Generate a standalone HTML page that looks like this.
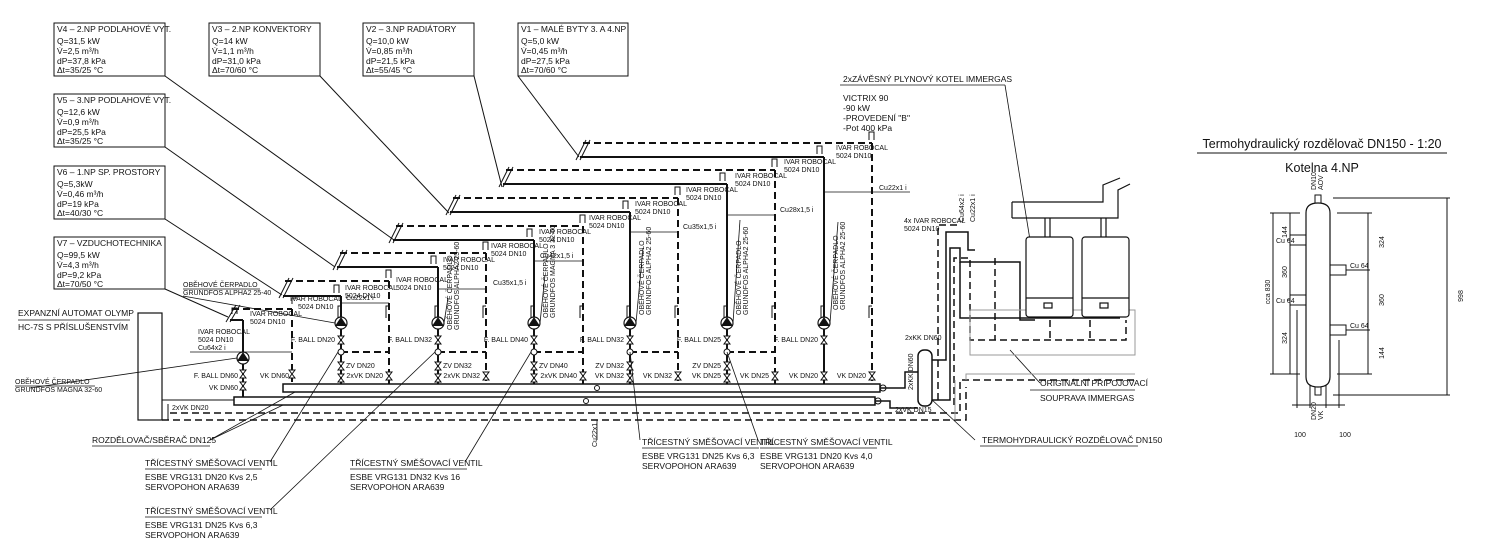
<!DOCTYPE html>
<html><head><meta charset="utf-8"><style>
html,body{margin:0;padding:0;background:#fff}
svg{display:block}
text{font-family:"Liberation Sans",sans-serif;fill:#111}
.t{font-size:8.5px}
.s{font-size:7px}
.d{stroke-dasharray:7,4}
</style></head><body>
<svg width="1500" height="549" viewBox="0 0 1500 549" xmlns="http://www.w3.org/2000/svg">
<g fill="none" stroke="#111" stroke-width="1">
<!-- info boxes -->
<rect x="54" y="23" width="111" height="53"/>
<rect x="209" y="23" width="111" height="53"/>
<rect x="363" y="23" width="111" height="53"/>
<rect x="518" y="23" width="110" height="53"/>
<rect x="54" y="94" width="111" height="53"/>
<rect x="54" y="166" width="111" height="53"/>
<rect x="54" y="237" width="111" height="52"/>
<!-- leaders -->
<line x1="165" y1="76" x2="394" y2="240"/>
<line x1="320" y1="76" x2="449" y2="213"/>
<line x1="474" y1="76" x2="502" y2="187"/>
<line x1="518" y1="76" x2="579" y2="157"/>
<line x1="165" y1="147" x2="335" y2="267"/>
<line x1="165" y1="219" x2="282" y2="295"/>
<line x1="165" y1="289" x2="228" y2="317"/>
</g>
<g class="t">
<text x="57" y="32">V4 – 2.NP PODLAHOVÉ VYT.</text><text x="57" y="44">Q=31,5 kW</text><text x="57" y="54">V̇=2,5 m³/h</text><text x="57" y="64">dP=37,8 kPa</text><text x="57" y="73">Δt=35/25 °C</text>
<text x="212" y="32">V3 – 2.NP KONVEKTORY</text><text x="212" y="44">Q=14 kW</text><text x="212" y="54">V̇=1,1 m³/h</text><text x="212" y="64">dP=31,0 kPa</text><text x="212" y="73">Δt=70/60 °C</text>
<text x="366" y="32">V2 – 3.NP RADIÁTORY</text><text x="366" y="44">Q=10,0 kW</text><text x="366" y="54">V̇=0,85 m³/h</text><text x="366" y="64">dP=21,5 kPa</text><text x="366" y="73">Δt=55/45 °C</text>
<text x="521" y="32">V1 – MALÉ BYTY 3. A 4.NP</text><text x="521" y="44">Q=5,0 kW</text><text x="521" y="54">V̇=0,45 m³/h</text><text x="521" y="64">dP=27,5 kPa</text><text x="521" y="73">Δt=70/60 °C</text>
<text x="57" y="103">V5 – 3.NP PODLAHOVÉ VYT.</text><text x="57" y="115">Q=12,6 kW</text><text x="57" y="125">V̇=0,9 m³/h</text><text x="57" y="135">dP=25,5 kPa</text><text x="57" y="144">Δt=35/25 °C</text>
<text x="57" y="175">V6 – 1.NP SP. PROSTORY</text><text x="57" y="187">Q=5,3kW</text><text x="57" y="197">V̇=0,46 m³/h</text><text x="57" y="207">dP=19 kPa</text><text x="57" y="216">Δt=40/30 °C</text>
<text x="57" y="246">V7 – VZDUCHOTECHNIKA</text><text x="57" y="258">Q=99,5 kW</text><text x="57" y="268">V̇=4,3 m³/h</text><text x="57" y="278">dP=9,2 kPa</text><text x="57" y="287">Δt=70/50 °C</text>
</g>

<!-- circuits -->
<g fill="none" stroke="#111">
<!-- c0 -->
<line x1="232" y1="309" x2="292" y2="309" stroke-width="2" class="d"/>
<line x1="292" y1="309" x2="292" y2="384" stroke-width="2" class="d"/>
<line x1="230" y1="320" x2="243" y2="320" stroke-width="2"/>
<line x1="243" y1="320" x2="243" y2="397" stroke-width="2"/>
<!-- c1 -->
<line x1="285" y1="281" x2="389" y2="281" stroke-width="2" class="d"/>
<line x1="389" y1="281" x2="389" y2="384" stroke-width="2" class="d"/>
<line x1="283" y1="296" x2="341" y2="296" stroke-width="2"/>
<line x1="341" y1="296" x2="341" y2="384" stroke-width="2"/>
<!-- c2 -->
<line x1="340" y1="253" x2="486" y2="253" stroke-width="2" class="d"/>
<line x1="486" y1="253" x2="486" y2="384" stroke-width="2" class="d"/>
<line x1="337" y1="267" x2="438" y2="267" stroke-width="2"/>
<line x1="438" y1="267" x2="438" y2="384" stroke-width="2"/>
<!-- c3 -->
<line x1="396" y1="226" x2="583" y2="226" stroke-width="2" class="d"/>
<line x1="583" y1="226" x2="583" y2="384" stroke-width="2" class="d"/>
<line x1="393" y1="240" x2="534" y2="240" stroke-width="2"/>
<line x1="534" y1="240" x2="534" y2="384" stroke-width="2"/>
<!-- c4 -->
<line x1="453" y1="198" x2="678" y2="198" stroke-width="2" class="d"/>
<line x1="678" y1="198" x2="678" y2="384" stroke-width="2" class="d"/>
<line x1="450" y1="212" x2="630" y2="212" stroke-width="2"/>
<line x1="630" y1="212" x2="630" y2="384" stroke-width="2"/>
<!-- c5 -->
<line x1="506" y1="170" x2="775" y2="170" stroke-width="2" class="d"/>
<line x1="775" y1="170" x2="775" y2="384" stroke-width="2" class="d"/>
<line x1="503" y1="184" x2="727" y2="184" stroke-width="2"/>
<line x1="727" y1="184" x2="727" y2="384" stroke-width="2"/>
<!-- c6 -->
<line x1="583" y1="143" x2="872" y2="143" stroke-width="2" class="d"/>
<line x1="872" y1="143" x2="872" y2="384" stroke-width="2" class="d"/>
<line x1="580" y1="157" x2="824" y2="157" stroke-width="2"/>
<line x1="824" y1="157" x2="824" y2="384" stroke-width="2"/>
<!-- break marks -->
<g stroke-width="1">
<path d="M226 322 L236 305 M230 322 L240 305"/>
<path d="M279 298 L289 278 M283 298 L293 278"/>
<path d="M333 270 L343 250 M337 270 L347 250"/>
<path d="M389 243 L399 223 M393 243 L403 223"/>
<path d="M446 215 L456 195 M450 215 L460 195"/>
<path d="M499 187 L509 167 M503 187 L513 167"/>
<path d="M576 160 L586 140 M580 160 L590 140"/>
</g>
<!-- bypass dashed -->
<g stroke-width="2" class="d">
<line x1="341" y1="352" x2="389" y2="352"/>
<line x1="438" y1="352" x2="486" y2="352"/>
<line x1="534" y1="352" x2="583" y2="352"/>
<line x1="630" y1="352" x2="678" y2="352"/>
<line x1="727" y1="352" x2="775" y2="352"/>
</g>
<!-- thin Cu lines -->
<g stroke-width="0.8">
<line x1="190" y1="352" x2="292" y2="352"/>
<line x1="341" y1="303" x2="389" y2="303"/>
<line x1="438" y1="289" x2="486" y2="289"/>
<line x1="534" y1="261" x2="583" y2="261"/>
<line x1="630" y1="232" x2="678" y2="232"/>
<line x1="727" y1="215" x2="775" y2="215"/>
<line x1="824" y1="192" x2="910" y2="192"/>
</g>
<!-- manifold bars -->
<rect x="283" y="384" width="597" height="8" stroke-width="1.5" fill="#fff"/>
<rect x="234" y="397" width="641" height="8" stroke-width="1.5" fill="#fff"/>
<circle cx="597" cy="388" r="2.5"/><circle cx="586" cy="401" r="2.5"/>
<circle cx="883" cy="388" r="3"/><circle cx="878" cy="401" r="3"/>
<!-- return dashed lines -->
<path d="M170 413 H960 V380 H1135" stroke-width="1.5" class="d"/>
<path d="M162 420 H966 V387" stroke-width="1.5" class="d"/>
<path d="M150 318 V420 M168 404 V420" stroke-width="1"/>
<!-- expansion vessel -->
<rect x="138" y="313" width="24" height="107" stroke-width="1.2" fill="#fff"/>
<line x1="162" y1="400" x2="234" y2="400" stroke-width="1"/>
<!-- pumps -->
<g stroke-width="1.2" fill="#fff">
<circle cx="243" cy="358" r="6"/><circle cx="341" cy="323" r="6"/><circle cx="438" cy="323" r="6"/>
<circle cx="534" cy="323" r="6"/><circle cx="630" cy="323" r="6"/><circle cx="727" cy="323" r="6"/><circle cx="824" cy="323" r="6"/>
</g>
<g fill="#111" stroke="none">
<path d="M243 352 L237 361 L249 361Z"/><path d="M341 317 L335 326 L347 326Z"/><path d="M438 317 L432 326 L444 326Z"/>
<path d="M534 317 L528 326 L540 326Z"/><path d="M630 317 L624 326 L636 326Z"/><path d="M727 317 L721 326 L733 326Z"/><path d="M824 317 L818 326 L830 326Z"/>
</g>
<!-- valves -->
<g stroke-width="1" fill="#fff">
<path d="M240 370 h6 l-6 8 h6z"/><path d="M240 382 h6 l-6 8 h6z"/><path d="M289 370 h6 l-6 8 h6z"/>
<path d="M338 336 h6 l-6 8 h6z"/><path d="M338 362 h6 l-6 8 h6z"/><path d="M338 374 h6 l-6 8 h6z"/><path d="M386 372 h6 l-6 8 h6z"/>
<path d="M435 336 h6 l-6 8 h6z"/><path d="M435 362 h6 l-6 8 h6z"/><path d="M435 374 h6 l-6 8 h6z"/><path d="M483 372 h6 l-6 8 h6z"/>
<path d="M531 336 h6 l-6 8 h6z"/><path d="M531 362 h6 l-6 8 h6z"/><path d="M531 374 h6 l-6 8 h6z"/><path d="M580 372 h6 l-6 8 h6z"/>
<path d="M627 336 h6 l-6 8 h6z"/><path d="M627 362 h6 l-6 8 h6z"/><path d="M627 374 h6 l-6 8 h6z"/><path d="M675 372 h6 l-6 8 h6z"/>
<path d="M724 336 h6 l-6 8 h6z"/><path d="M724 362 h6 l-6 8 h6z"/><path d="M724 374 h6 l-6 8 h6z"/><path d="M772 372 h6 l-6 8 h6z"/>
<path d="M821 336 h6 l-6 8 h6z"/><path d="M821 372 h6 l-6 8 h6z"/><path d="M869 372 h6 l-6 8 h6z"/>
<circle cx="341" cy="352" r="3"/><circle cx="438" cy="352" r="3"/><circle cx="534" cy="352" r="3"/><circle cx="630" cy="352" r="3"/><circle cx="727" cy="352" r="3"/>
</g>
<!-- air vents -->
<g stroke-width="1">
<path d="M232 314 v-6 h5 v6 M292 304 v-6 h5"/>
<path d="M334 293 v-8 h5 v8 M386 278 v-8 h5 v8"/>
<path d="M431 264 v-8 h5 v8 M483 250 v-8 h5 v8"/>
<path d="M527 237 v-8 h5 v8 M580 223 v-8 h5 v8"/>
<path d="M623 209 v-8 h5 v8 M675 195 v-8 h5 v8"/>
<path d="M720 181 v-8 h5 v8 M772 167 v-8 h5 v8"/>
<path d="M817 154 v-8 h5 v8 M869 140 v-8 h5 v8"/>
<path d="M338 318 v-12 h3 M435 318 v-12 h3 M531 318 v-12 h3 M627 318 v-12 h3 M724 318 v-12 h3 M821 318 v-12 h3"/>
<path d="M386 318 v-12 h3 M483 318 v-12 h3 M580 318 v-12 h3 M675 318 v-12 h3 M772 318 v-12 h3 M869 318 v-12 h3"/>
</g>
<!-- pump/valve leaders -->
<g stroke-width="0.8">
<line x1="30" y1="388" x2="237" y2="358"/>
<line x1="183" y1="296" x2="335" y2="323"/>
<line x1="210" y1="440" x2="283" y2="405"/><line x1="210" y1="440" x2="295" y2="392"/>
<line x1="270" y1="462" x2="338" y2="352"/><line x1="270" y1="510" x2="435" y2="352"/>
<line x1="465" y1="462" x2="531" y2="352"/>
<line x1="640" y1="440" x2="630" y2="352"/><line x1="758" y1="440" x2="727" y2="352"/>
<line x1="975" y1="440" x2="930" y2="398"/>
<line x1="1040" y1="383" x2="1010" y2="350"/>
<line x1="1005" y1="85" x2="1030" y2="240"/>
<line x1="448" y1="298" x2="444" y2="323"/><line x1="545" y1="275" x2="540" y2="323"/>
<line x1="643" y1="248" x2="636" y2="323"/><line x1="740" y1="220" x2="733" y2="323"/><line x1="838" y1="222" x2="830" y2="323"/>
<line x1="597" y1="420" x2="597" y2="440"/>
</g>
<!-- right piping -->
<g stroke-width="1.5">
<path d="M880 388 H905 V372 H918"/><path d="M875 401 H890 V408 H918"/>
<rect x="918" y="350" width="14" height="56" rx="6" fill="#fff"/>
<path d="M932 360 H946 V232 H968 V250 H975"/>
<path d="M932 372 V372" />
<path d="M932 400 H950 V248 H960 V262 H1020 V320 H1035"/>
<path d="M960 262 V318 H1120"/>
</g>
<path d="M938 400 V225 H958 M954 405 V258 H970 V340 H1126 V320 M995 258 V340 M1050 320 V340 M1090 320 V340" stroke-width="1.5" class="d"/>
<rect x="970" y="310" width="165" height="45" stroke="#999" stroke-width="1"/>
<path d="M955 420 V380 M966 380 V374 H1135" stroke="#999" stroke-width="1"/>
<!-- boilers -->
<g stroke-width="1.2">
<path d="M1012 202 H1103 V185 L1120 178 M1012 218 H1118 V190 L1130 184 M1012 202 V218"/>
<line x1="1045" y1="218" x2="1045" y2="237"/><line x1="1050" y1="218" x2="1050" y2="237"/>
<line x1="1101" y1="218" x2="1101" y2="237"/><line x1="1106" y1="218" x2="1106" y2="237"/>
<rect x="1026" y="237" width="47" height="80" rx="3" fill="#fff"/>
<rect x="1082" y="237" width="47" height="80" rx="3" fill="#fff"/>
<line x1="1026" y1="298" x2="1073" y2="298"/><line x1="1082" y1="298" x2="1129" y2="298"/>
<rect x="1044" y="303" width="8" height="5"/><rect x="1100" y="303" width="8" height="5"/>
</g>
<!-- right detail drawing -->
<g stroke-width="1">
<line x1="1197" y1="153" x2="1447" y2="153"/>
<path d="M1306 213 Q1306 203 1318 203 Q1330 203 1330 213 V377 Q1330 387 1318 387 Q1306 387 1306 377Z" stroke-width="1.2"/>
<rect x="1315" y="195" width="6" height="8"/><rect x="1315" y="387" width="6" height="8"/>
<rect x="1290" y="235" width="16" height="10"/><rect x="1290" y="295" width="16" height="10"/>
<rect x="1330" y="265" width="16" height="10"/><rect x="1330" y="325" width="16" height="10"/>
<line x1="1273" y1="213" x2="1273" y2="374"/><line x1="1290" y1="213" x2="1290" y2="374"/>
<line x1="1368" y1="213" x2="1368" y2="374"/><line x1="1447" y1="198" x2="1447" y2="395"/>
<line x1="1270" y1="213" x2="1300" y2="213"/><line x1="1337" y1="213" x2="1372" y2="213"/>
<line x1="1270" y1="374" x2="1300" y2="374"/><line x1="1337" y1="374" x2="1372" y2="374"/>
<line x1="1287" y1="240" x2="1290" y2="240"/><line x1="1287" y1="300" x2="1290" y2="300"/>
<line x1="1346" y1="270" x2="1370" y2="270"/><line x1="1346" y1="330" x2="1370" y2="330"/>
<line x1="1333" y1="198" x2="1450" y2="198"/><line x1="1333" y1="395" x2="1450" y2="395"/>
<line x1="1297" y1="310" x2="1297" y2="408"/><line x1="1339" y1="340" x2="1339" y2="408"/>
<line x1="1310" y1="385" x2="1310" y2="408"/><line x1="1326" y1="385" x2="1326" y2="408"/>
<line x1="1292" y1="405" x2="1345" y2="405"/>
</g>
</g>

<!-- labels -->
<g class="s">
<text x="183" y="287">OBĚHOVÉ ČERPADLO</text><text x="183" y="295">GRUNDFOS ALPHA2 25-40</text>
<text x="15" y="384">OBĚHOVÉ ČERPADLO</text><text x="15" y="392">GRUNDFOS MAGNA 32-60</text>
<text x="198" y="334">IVAR ROBOCAL</text><text x="198" y="342">5024 DN10</text>
<text x="250" y="316">IVAR ROBOCAL</text><text x="250" y="324">5024 DN10</text>
<text x="290" y="301">IVAR ROBOCAL</text><text x="298" y="309">5024 DN10</text>
<text x="345" y="290">IVAR ROBOCAL</text><text x="345" y="298">5024 DN10</text>
<text x="396" y="282">IVAR ROBOCAL</text><text x="396" y="290">5024 DN10</text>
<text x="443" y="262">IVAR ROBOCAL</text><text x="443" y="270">5024 DN10</text>
<text x="491" y="248">IVAR ROBOCAL</text><text x="491" y="256">5024 DN10</text>
<text x="539" y="234">IVAR ROBOCAL</text><text x="539" y="242">5024 DN10</text>
<text x="589" y="220">IVAR ROBOCAL</text><text x="589" y="228">5024 DN10</text>
<text x="635" y="206">IVAR ROBOCAL</text><text x="635" y="214">5024 DN10</text>
<text x="686" y="192">IVAR ROBOCAL</text><text x="686" y="200">5024 DN10</text>
<text x="735" y="178">IVAR ROBOCAL</text><text x="735" y="186">5024 DN10</text>
<text x="784" y="164">IVAR ROBOCAL</text><text x="784" y="172">5024 DN10</text>
<text x="836" y="150">IVAR ROBOCAL</text><text x="836" y="158">5024 DN10</text>
<text x="198" y="350">Cu64x2 i</text><text x="346" y="300">Cu22x1 i</text><text x="493" y="285">Cu35x1,5 i</text>
<text x="540" y="258">Cu42x1,5 i</text><text x="683" y="229">Cu35x1,5 i</text><text x="780" y="212">Cu28x1,5 i</text><text x="879" y="190">Cu22x1 i</text>
<text x="238" y="378" text-anchor="end">F. BALL DN60</text><text x="238" y="390" text-anchor="end">VK DN60</text>
<text x="289" y="378" text-anchor="end">VK DN60</text>
<text x="335" y="342" text-anchor="end">F. BALL DN20</text><text x="432" y="342" text-anchor="end">F. BALL DN32</text>
<text x="528" y="342" text-anchor="end">F. BALL DN40</text><text x="624" y="342" text-anchor="end">F. BALL DN32</text>
<text x="721" y="342" text-anchor="end">F. BALL DN25</text><text x="818" y="342" text-anchor="end">F. BALL DN20</text>
<text x="346" y="368">ZV DN20</text><text x="443" y="368">ZV DN32</text><text x="539" y="368">ZV DN40</text>
<text x="624" y="368" text-anchor="end">ZV DN32</text><text x="721" y="368" text-anchor="end">ZV DN25</text>
<text x="383" y="378" text-anchor="end">2xVK DN20</text><text x="480" y="378" text-anchor="end">2xVK DN32</text>
<text x="577" y="378" text-anchor="end">2xVK DN40</text><text x="624" y="378" text-anchor="end">VK DN32</text>
<text x="672" y="378" text-anchor="end">VK DN32</text><text x="721" y="378" text-anchor="end">VK DN25</text>
<text x="769" y="378" text-anchor="end">VK DN25</text><text x="818" y="378" text-anchor="end">VK DN20</text>
<text x="866" y="378" text-anchor="end">VK DN20</text>
<text x="172" y="410">2xVK DN20</text>
<text x="895" y="412">2xVK DN15</text>
<text x="905" y="340">2xKK DN60</text>
<text transform="translate(913,390) rotate(-90)">2xKK DN60</text>
<text transform="translate(597,447) rotate(-90)">Cu22x1 i</text>
<text transform="translate(452,330) rotate(-90)">OBĚHOVÉ ČERPADLO</text><text transform="translate(459,330) rotate(-90)">GRUNDFOS ALPHA2 25-60</text>
<text transform="translate(548,318) rotate(-90)">OBĚHOVÉ ČERPADLO</text><text transform="translate(555,318) rotate(-90)">GRUNDFOS MAGNA 3 32-60</text>
<text transform="translate(644,315) rotate(-90)">OBĚHOVÉ ČERPADLO</text><text transform="translate(651,315) rotate(-90)">GRUNDFOS ALPHA2 25-60</text>
<text transform="translate(741,315) rotate(-90)">OBĚHOVÉ ČERPADLO</text><text transform="translate(748,315) rotate(-90)">GRUNDFOS ALPHA2 25-60</text>
<text transform="translate(838,310) rotate(-90)">OBĚHOVÉ ČERPADLO</text><text transform="translate(845,310) rotate(-90)">GRUNDFOS ALPHA2 25-60</text>
<text x="904" y="223">4x IVAR ROBOCAL</text><text x="904" y="231">5024 DN10</text>
<text transform="translate(964,222) rotate(-90)">Cu64x2 i</text><text transform="translate(975,222) rotate(-90)">Cu22x1 i</text>
</g>
<g class="t">
<text x="18" y="316">EXPANZNÍ AUTOMAT OLYMP</text><text x="18" y="330">HC-7S S PŘÍSLUŠENSTVÍM</text>
<text x="92" y="443">ROZDĚLOVAČ/SBĚRAČ DN125</text>
<text x="145" y="466">TŘÍCESTNÝ SMĚŠOVACÍ VENTIL</text><text x="145" y="480">ESBE VRG131 DN20 Kvs 2,5</text><text x="145" y="490">SERVOPOHON ARA639</text>
<text x="145" y="514">TŘÍCESTNÝ SMĚŠOVACÍ VENTIL</text><text x="145" y="528">ESBE VRG131 DN25 Kvs 6,3</text><text x="145" y="538">SERVOPOHON ARA639</text>
<text x="350" y="466">TŘÍCESTNÝ SMĚŠOVACÍ VENTIL</text><text x="350" y="480">ESBE VRG131 DN32 Kvs 16</text><text x="350" y="490">SERVOPOHON ARA639</text>
<text x="642" y="445">TŘÍCESTNÝ SMĚŠOVACÍ VENTIL</text><text x="642" y="459">ESBE VRG131 DN25 Kvs 6,3</text><text x="642" y="469">SERVOPOHON ARA639</text>
<text x="760" y="445">TŘÍCESTNÝ SMĚŠOVACÍ VENTIL</text><text x="760" y="459">ESBE VRG131 DN20 Kvs 4,0</text><text x="760" y="469">SERVOPOHON ARA639</text>
<text x="982" y="443">TERMOHYDRAULICKÝ ROZDĚLOVAČ DN150</text>
<text x="1040" y="386">ORIGINÁLNÍ PŘIPOJOVACÍ</text><text x="1040" y="401">SOUPRAVA IMMERGAS</text>
<text x="843" y="82">2xZÁVĚSNÝ PLYNOVÝ KOTEL IMMERGAS</text>
<text x="843" y="101">VICTRIX 90</text><text x="843" y="111">-90 kW</text><text x="843" y="121">-PROVEDENÍ "B"</text><text x="843" y="131">-Pot 400 kPa</text>
</g>
<g stroke="#111" stroke-width="0.8">
<line x1="145" y1="469" x2="262" y2="469"/><line x1="145" y1="517" x2="262" y2="517"/>
<line x1="350" y1="469" x2="467" y2="469"/><line x1="642" y1="448" x2="759" y2="448"/>
<line x1="760" y1="448" x2="877" y2="448"/><line x1="980" y1="446" x2="1138" y2="446"/>
<line x1="92" y1="446" x2="210" y2="446"/><line x1="1030" y1="390" x2="1135" y2="390"/>
<line x1="840" y1="85" x2="1005" y2="85"/><line x1="15" y1="386" x2="95" y2="386"/>
<line x1="18" y1="320" x2="130" y2="320"/><line x1="183" y1="289" x2="260" y2="289"/>
</g>
<!-- right drawing text -->
<text x="1322" y="148" text-anchor="middle" style="font-size:12.5px">Termohydraulický rozdělovač DN150 - 1:20</text>
<text x="1322" y="172" text-anchor="middle" style="font-size:12.5px">Kotelna 4.NP</text>
<g class="s">
<text x="1276" y="243">Cu 64</text><text x="1276" y="303">Cu 64</text><text x="1350" y="268">Cu 64</text><text x="1350" y="328">Cu 64</text>
<text transform="translate(1287,232) rotate(-90)" text-anchor="middle">144</text>
<text transform="translate(1287,272) rotate(-90)" text-anchor="middle">360</text>
<text transform="translate(1287,338) rotate(-90)" text-anchor="middle">324</text>
<text transform="translate(1270,292) rotate(-90)" text-anchor="middle">cca 830</text>
<text transform="translate(1384,242) rotate(-90)" text-anchor="middle">324</text>
<text transform="translate(1384,300) rotate(-90)" text-anchor="middle">360</text>
<text transform="translate(1384,353) rotate(-90)" text-anchor="middle">144</text>
<text transform="translate(1463,296) rotate(-90)" text-anchor="middle">998</text>
<text transform="translate(1316,190) rotate(-90)">DN10</text><text transform="translate(1323,190) rotate(-90)">AOV</text>
<text transform="translate(1316,420) rotate(-90)">DN20</text><text transform="translate(1323,420) rotate(-90)">VK</text>
<text x="1300" y="437" text-anchor="middle">100</text><text x="1345" y="437" text-anchor="middle">100</text>
</g>
</svg>
</body></html>
